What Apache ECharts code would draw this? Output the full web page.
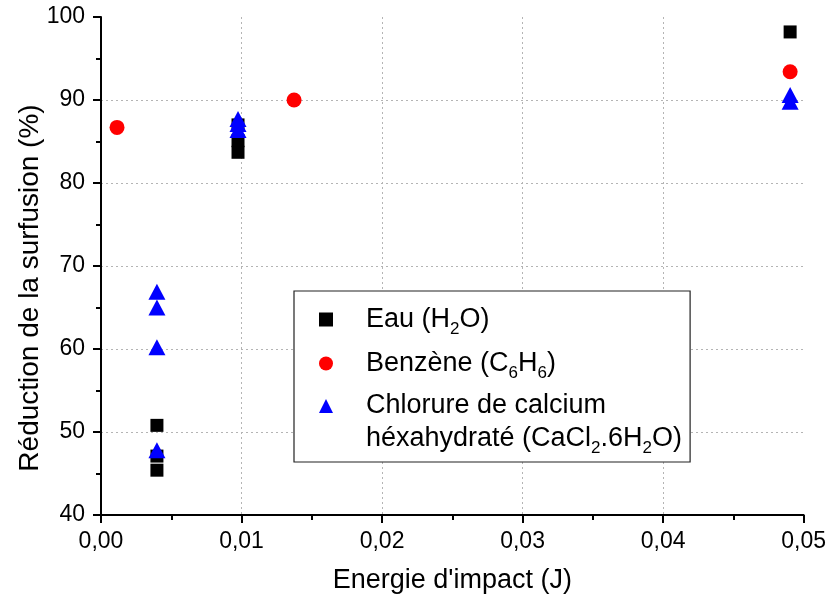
<!DOCTYPE html>
<html>
<head>
<meta charset="utf-8">
<script src="https://cdn.jsdelivr.net/npm/echarts@6/dist/echarts.min.js"></script>
<style>html,body{margin:0;padding:0;background:#fff}#c{width:829px;height:600px}</style>
</head>
<body>
<div id="c"></div>
<script>
// ---- data ----
var seriesNames = ['Eau (H2O)', 'Benzène (C6H6)', 'Chlorure de calcium'];
var eauX = [0.00398, 0.00398, 0.00398, 0.00975, 0.00975, 0.00975, 0.04904];
var eauY = [50.8, 47.1, 45.4, 87.0, 85.1, 83.7, 98.2];
var benzeneX = [0.00114, 0.01374, 0.04904];
var benzeneY = [86.7, 90.0, 93.4];
var cacl2X = [0.00398, 0.00398, 0.00398, 0.00398, 0.00975, 0.00975, 0.00975, 0.04904, 0.04904];
var cacl2Y = [66.9, 65.0, 60.2, 47.8, 87.7, 87.1, 86.4, 90.6, 89.8];
var xTicks = [0, 0.01, 0.02, 0.03, 0.04, 0.05];
var yTicks = [40, 50, 60, 70, 80, 90, 100];
var xTitle = "Energie d'impact (J)";
var yTitle = 'Réduction de la surfusion (%)';

function pairs(xs, ys) { return xs.map(function (x, i) { return [x, ys[i]]; }); }

var FONT = 'Liberation Sans, Arial, sans-serif';
var legendRich = {
  sub: { fontSize: 17, fontFamily: FONT, color: '#000', padding: [20, 0, 0, 0], lineHeight: 10 }
};
var legendLabels = {
  'Eau (H2O)': 'Eau (H{sub|2}O)',
  'Benzène (C6H6)': 'Benzène (C{sub|6}H{sub|6})',
  'Chlorure de calcium': 'Chlorure de calcium'
};

var chart = echarts.init(document.getElementById('c'), null, { renderer: 'canvas' });
chart.setOption({
  animation: false,
  backgroundColor: '#fff',
  grid: { left: 101, right: 25, top: 17, bottom: 85, containLabel: false },
  xAxis: {
    type: 'value',
    min: xTicks[0], max: xTicks[xTicks.length - 1], interval: 0.01,
    name: xTitle, nameLocation: 'middle', nameGap: 52, nameMoveOverlap: false,
    nameTextStyle: { fontSize: 27, fontFamily: FONT, color: '#000' },
    axisLine: { lineStyle: { color: '#000', width: 2 } },
    axisTick: { inside: false, length: 8, lineStyle: { color: '#000', width: 2 } },
    minorTick: { show: true, splitNumber: 2, length: 5, lineStyle: { color: '#000', width: 2 } },
    axisLabel: { fontSize: 23, fontFamily: FONT, color: '#000', margin: 15,
      formatter: function (v) { return v.toFixed(2).replace('.', ','); } },
    splitLine: { show: true, showMinLine: false, showMaxLine: false,
      lineStyle: { color: '#b4b4b4', type: [2, 3], width: 1 } }
  },
  yAxis: {
    type: 'value',
    min: yTicks[0], max: yTicks[yTicks.length - 1], interval: 10,
    name: yTitle, nameLocation: 'middle', nameGap: 57, nameMoveOverlap: false,
    nameTextStyle: { fontSize: 28, fontFamily: FONT, color: '#000', padding: [0, 44, 0, 0] },
    axisLine: { show: true, lineStyle: { color: '#000', width: 2 } },
    axisTick: { show: true, inside: false, length: 8, lineStyle: { color: '#000', width: 2 } },
    minorTick: { show: true, splitNumber: 2, length: 5, lineStyle: { color: '#000', width: 2 } },
    axisLabel: { fontSize: 23, fontFamily: FONT, color: '#000', margin: 16 },
    splitLine: { show: true, showMinLine: false, showMaxLine: false,
      lineStyle: { color: '#b4b4b4', type: [2, 3], width: 1 } }
  },
  legend: {
    orient: 'vertical', left: 294, top: 291,
    padding: [10, 84, 39, 25],
    itemGap: 7, itemWidth: 14, itemHeight: 14,
    borderColor: '#222', borderWidth: 1.2, backgroundColor: '#fff',
    selectedMode: false,
    data: seriesNames,
    formatter: function (n) { return legendLabels[n]; },
    textStyle: { fontSize: 27, fontFamily: FONT, color: '#000', lineHeight: 34,
      padding: [0, 0, 0, 28], rich: legendRich }
  },
  graphic: [{
    type: 'text', left: 366, top: 420, z: 100,
    style: { text: 'héxahydraté (CaCl{sub|2}.6H{sub|2}O)', fontSize: 27, fontFamily: FONT,
      fill: '#000', lineHeight: 34, rich: legendRich }
  }],
  series: [
    { name: seriesNames[1], type: 'scatter', symbol: 'circle', symbolSize: 15,
      itemStyle: { color: '#ff0000', opacity: 1 }, data: pairs(benzeneX, benzeneY), z: 2 },
    { name: seriesNames[0], type: 'scatter', symbol: 'rect', symbolSize: 13,
      itemStyle: { color: '#000000', opacity: 1 }, data: pairs(eauX, eauY), z: 3 },
    { name: seriesNames[2], type: 'scatter', symbol: 'triangle', symbolSize: [17, 16],
      itemStyle: { color: '#0000ff', opacity: 1 }, data: pairs(cacl2X, cacl2Y), z: 4 }
  ]
});
</script>
</body>
</html>
